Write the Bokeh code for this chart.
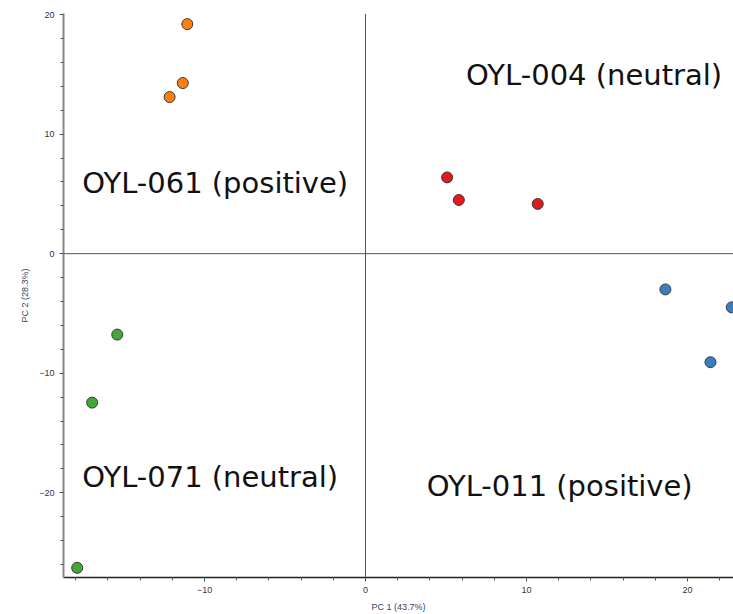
from bokeh.plotting import figure
from bokeh.models import Range1d, Span, SingleIntervalTicker, ColumnDataSource
from bokeh.core.properties import value
from bokeh.embed import file_html
from bokeh.resources import INLINE

# PCA scores (PC1, PC2) per sample group
oyl061_pc1 = [-11.07, -11.35, -12.17]
oyl061_pc2 = [19.2, 14.27, 13.1]
oyl004_pc1 = [5.07, 5.80, 10.70]
oyl004_pc2 = [6.38, 4.49, 4.16]
oyl011_pc1 = [18.63, 21.43, 22.75]
oyl011_pc2 = [-2.99, -9.08, -4.49]
oyl071_pc1 = [-15.42, -16.98, -17.91]
oyl071_pc2 = [-6.77, -12.46, -26.28]

group_colors = ["#ff7f0e", "#e3191c", "#3a7dc0", "#41a737"]

label_text = ["OYL-061 (positive)", "OYL-004 (neutral)", "OYL-071 (neutral)", "OYL-011 (positive)"]
label_x = [-17.6, 6.25, -17.6, 3.8]
label_y = [5.95, 14.97, -18.65, -19.4]

x_axis_title = "PC 1 (43.7%)"
y_axis_title = "PC 2 (28.3%)"

p = figure(width=733, height=614, output_backend="svg", toolbar_location=None,
           x_range=Range1d(-18.76, 22.86), y_range=Range1d(-27.09, 20.09),
           min_border_left=63, min_border_right=0, min_border_top=13, min_border_bottom=37)
p.outline_line_color = None
p.xgrid.visible = False
p.ygrid.visible = False

p.add_layout(Span(location=0, dimension="height", line_color="#555555", line_width=1))
p.add_layout(Span(location=0, dimension="width", line_color="#555555", line_width=1))

groups = [(oyl061_pc1, oyl061_pc2), (oyl004_pc1, oyl004_pc2),
          (oyl011_pc1, oyl011_pc2), (oyl071_pc1, oyl071_pc2)]
for (xs, ys), c in zip(groups, group_colors):
    p.scatter(xs, ys, size=11, fill_color=c, line_color="#3a3a3a", line_width=1)

src = ColumnDataSource(dict(x=label_x, y=label_y, t=label_text))
p.text(x="x", y="y", text="t", source=src, text_font=value("DejaVu Sans"),
       text_font_size="29px", text_color="#111111", text_align="left",
       text_baseline="alphabetic")

for ax, title in ((p.xaxis[0], x_axis_title), (p.yaxis[0], y_axis_title)):
    ax.ticker = SingleIntervalTicker(interval=10, num_minor_ticks=5)
    ax.axis_label = title
    ax.axis_label_text_font = "Liberation Sans"
    ax.axis_label_text_font_size = "9px"
    ax.axis_label_text_font_style = "normal"
    ax.axis_label_text_color = "#334466"
    ax.axis_label_standoff = 6
    ax.major_label_text_font = "Liberation Sans"
    ax.major_label_text_font_size = "9px"
    ax.major_label_text_color = "#333344"
    ax.major_label_standoff = 5
    ax.major_tick_in = 0
    ax.major_tick_out = 4
    ax.minor_tick_in = 0
    ax.minor_tick_out = 3
    ax.major_tick_line_color = "#555555"
    ax.minor_tick_line_color = "#555555"

p.xaxis[0].axis_line_color = "#222222"
p.xaxis[0].axis_line_width = 1.5
p.yaxis[0].axis_line_color = "#888888"
p.yaxis[0].axis_line_width = 2

open("out.html", "w").write(file_html(p, INLINE))
